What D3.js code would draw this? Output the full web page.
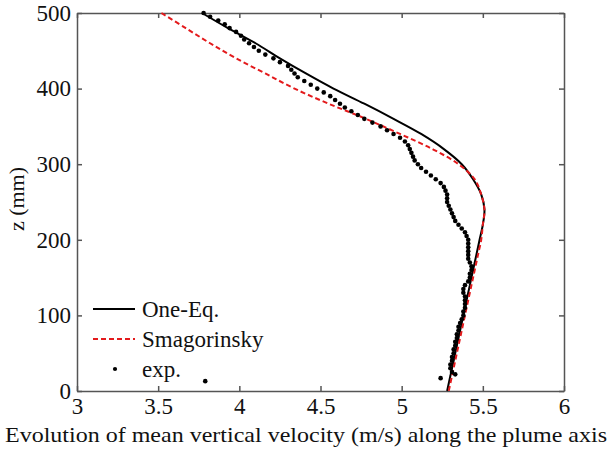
<!DOCTYPE html>
<html lang="en">
<head>
    <meta charset="utf-8"/>
    <title>Mean vertical velocity along the plume axis</title>
    <script src="https://d3js.org/d3.v7.min.js"></script>
    <style>
        body { margin: 0; background: #fff; }
        text { font-family: "Liberation Serif", "Times New Roman", serif; fill: #111; }
        .axis path, .axis line { stroke: #555; stroke-width: 1.5; }
        .axis text { font-size: 23px; fill: #111; }
    </style>
</head>
<body>
<svg width="611" height="450"></svg>

<script>

    // tick values
    const xTicks = [3, 3.5, 4, 4.5, 5, 5.5, 6];
    const yTicks = [0, 100, 200, 300, 400, 500];

    // series: heights z (mm)
    const zModel = [500, 480, 460, 440, 420, 400, 380, 360, 340, 320, 300, 280, 260,
        240, 220, 200, 180, 160, 140, 120, 100, 80, 60, 40, 20, 0];
    // One-Eq. velocity (m/s)
    const oneEq = [3.77, 3.93, 4.10, 4.25, 4.41, 4.58, 4.77, 4.95, 5.12, 5.26, 5.37, 5.44, 5.49,
        5.51, 5.50, 5.48, 5.46, 5.44, 5.42, 5.40, 5.38, 5.36, 5.34, 5.32, 5.30, 5.28];
    // Smagorinsky velocity (m/s)
    const smag = [3.52, 3.67, 3.82, 3.98, 4.16, 4.34, 4.55, 4.78, 4.99, 5.19, 5.35, 5.45, 5.49,
        5.51, 5.50, 5.49, 5.47, 5.45, 5.43, 5.41, 5.39, 5.37, 5.35, 5.33, 5.31, 5.29];

    // experiment: heights and velocities
    const zExp = [500, 495, 490, 485, 480, 475, 470, 465, 460, 455, 450, 445, 440, 435, 430,
        425, 420, 415, 410, 405, 400, 395, 390, 385, 380, 375, 370, 365, 360, 355, 350, 345,
        340, 335, 330, 325, 320, 315, 310, 305, 300, 295, 290, 285, 280, 275, 270, 265, 260,
        255, 250, 245, 240, 235, 230, 225, 220, 215, 210, 205, 200, 195, 190, 185, 180, 175,
        170, 165, 160, 155, 150, 145, 140, 135, 130, 125, 120, 115, 110, 105, 100, 95, 90, 85,
        80, 75, 70, 65, 60, 55, 50, 45, 40, 35, 30, 25, 22, 17, 13];
    const vExp = [3.78, 3.82, 3.87, 3.91, 3.94, 3.98, 4.01, 4.03, 4.06, 4.09, 4.12, 4.16, 4.21,
        4.25, 4.30, 4.32, 4.34, 4.36, 4.40, 4.44, 4.48, 4.52, 4.56, 4.59, 4.62, 4.65, 4.69,
        4.73, 4.77, 4.82, 4.87, 4.91, 4.95, 4.99, 5.02, 5.04, 5.05, 5.06, 5.07, 5.08, 5.10,
        5.12, 5.15, 5.18, 5.21, 5.24, 5.26, 5.27, 5.28, 5.28, 5.28, 5.29, 5.30, 5.31, 5.32,
        5.33, 5.35, 5.37, 5.39, 5.40, 5.41, 5.41, 5.41, 5.41, 5.41, 5.41, 5.42, 5.43, 5.43,
        5.42, 5.42, 5.41, 5.39, 5.38, 5.38, 5.39, 5.39, 5.39, 5.39, 5.38, 5.38, 5.37, 5.36,
        5.35, 5.35, 5.34, 5.34, 5.33, 5.33, 5.32, 5.32, 5.31, 5.31, 5.30, 5.30, 5.31, 5.33,
        5.24, 3.79];

    const legendNames = ["One-Eq.", "Smagorinsky", "exp."];

    // plot frame
    const mLeft = 77, mRight = 564, mTop = 13, mBottom = 391;

    const svg = d3.select("svg");

    let xScale = d3.scaleLinear().domain([3, 6]).range([mLeft, mRight]);
    let yScale = d3.scaleLinear().domain([0, 500]).range([mBottom, mTop]);

    // axes, ticks pointing inward
    svg.append("g").attr("class", "axis")
        .attr("transform", "translate(0," + mBottom + ")")
        .call(d3.axisBottom(xScale).tickValues(xTicks).tickFormat(d => d)
            .tickSizeInner(-5).tickSizeOuter(0).tickPadding(7));
    svg.append("g").attr("class", "axis")
        .attr("transform", "translate(0," + mTop + ")")
        .call(d3.axisTop(xScale).tickValues(xTicks).tickSizeInner(-5).tickSizeOuter(0).tickFormat(""));
    svg.append("g").attr("class", "axis")
        .attr("transform", "translate(" + mLeft + ",0)")
        .call(d3.axisLeft(yScale).tickValues(yTicks).tickFormat(d => d)
            .tickSizeInner(-5).tickSizeOuter(0).tickPadding(6));
    svg.append("g").attr("class", "axis")
        .attr("transform", "translate(" + mRight + ",0)")
        .call(d3.axisRight(yScale).tickValues(yTicks).tickSizeInner(-5).tickSizeOuter(0).tickFormat(""));

    // curves
    const line = d3.line()
        .x(d => xScale(d[0]))
        .y(d => yScale(d[1]))
        .curve(d3.curveCatmullRom);

    svg.append("path")
        .attr("d", line(oneEq.map((v, i) => [v, zModel[i]])))
        .attr("fill", "none")
        .attr("stroke", "#000")
        .attr("stroke-width", 2);

    svg.append("path")
        .attr("d", line(smag.map((v, i) => [v, zModel[i]])))
        .attr("fill", "none")
        .attr("stroke", "#e31a1c")
        .attr("stroke-width", 2)
        .attr("stroke-dasharray", "5,3");

    // experimental points
    svg.append("g").selectAll("circle")
        .data(vExp.map((v, i) => [v, zExp[i]]))
        .join("circle")
        .attr("cx", d => xScale(d[0]))
        .attr("cy", d => yScale(d[1]))
        .attr("r", 2.3)
        .attr("fill", "#000");

    // labels
    svg.append("text")
        .attr("x", 306).attr("y", 442)
        .attr("text-anchor", "middle")
        .attr("font-size", 22)
        .attr("textLength", 602)
        .attr("lengthAdjust", "spacingAndGlyphs")
        .text("Evolution of mean vertical velocity (m/s) along the plume axis");

    svg.append("text")
        .attr("transform", "translate(24,199) rotate(-90)")
        .attr("text-anchor", "middle")
        .attr("font-size", 22)
        .text("z (mm)");

    // legend
    const legend = svg.append("g");
    const rows = legendNames.map((name, i) => ({name: name, y: 309 + i * 30}));

    legend.append("line")
        .attr("x1", 93).attr("x2", 135).attr("y1", rows[0].y).attr("y2", rows[0].y)
        .attr("stroke", "#000").attr("stroke-width", 2);
    legend.append("line")
        .attr("x1", 93).attr("x2", 135).attr("y1", rows[1].y).attr("y2", rows[1].y)
        .attr("stroke", "#e31a1c").attr("stroke-width", 2).attr("stroke-dasharray", "5,3");
    legend.append("circle")
        .attr("cx", 115).attr("cy", rows[2].y).attr("r", 2.1).attr("fill", "#000");

    legend.selectAll("text")
        .data(rows)
        .join("text")
        .attr("x", 142)
        .attr("y", d => d.y + 8)
        .attr("font-size", 23)
        .text(d => d.name);

</script>
</body>
</html>
